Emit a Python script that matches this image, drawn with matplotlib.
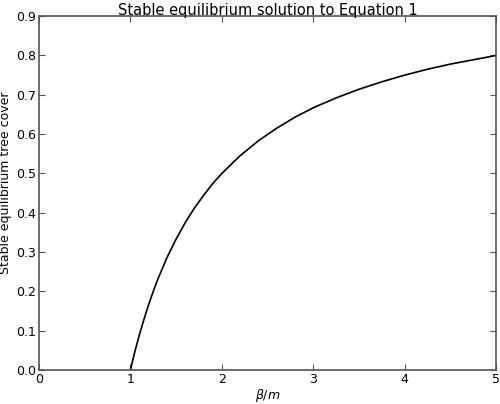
import matplotlib
matplotlib.use('Agg')
import matplotlib.pyplot as plt

# valores
beta_m = [1.0, 1.02, 1.05, 1.08, 1.1, 1.15, 1.2, 1.25, 1.3, 1.4, 1.5, 1.6, 1.7, 1.8,
          1.9, 2.0, 2.2, 2.4, 2.6, 2.8, 3.0, 3.25, 3.5, 3.75, 4.0, 4.25, 4.5, 4.75, 5.0]
tree_cover = [0.0, 0.020, 0.048, 0.074, 0.091, 0.130, 0.167, 0.200, 0.231, 0.286,
              0.333, 0.375, 0.412, 0.444, 0.474, 0.500, 0.545, 0.583, 0.615, 0.643,
              0.667, 0.692, 0.714, 0.733, 0.750, 0.765, 0.778, 0.789, 0.800]

xticks = [0, 1, 2, 3, 4, 5]
yticks = [0.0, 0.1, 0.2, 0.3, 0.4, 0.5, 0.6, 0.7, 0.8, 0.9]

fig = plt.figure(figsize=(5.0, 4.04), dpi=100)
ax = fig.add_axes([0.078, 0.084, 0.914, 0.876])

ax.plot(beta_m, tree_cover, color='black', lw=1.2)

ax.set_xlim(0, 5)
ax.set_ylim(0, 0.9)
ax.set_xticks(xticks)
ax.set_yticks(yticks)
ax.set_yticklabels(['%.1f' % v for v in yticks])
ax.tick_params(direction='in', top=True, right=True, length=4, width=0.8,
               labelsize=9, color='#555555', pad=2)
for s in ax.spines.values():
    s.set_linewidth(1.2)
    s.set_color('#555555')

ax.set_xlabel(r'$\beta/m$', fontsize=9, labelpad=1)
ax.set_ylabel('Stable equilibrium tree cover', fontsize=9)
ax.yaxis.set_label_coords(-0.058, 0.53)
ax.set_title('Stable equilibrium solution to Equation 1', fontsize=10.5, pad=1)

fig.savefig('out.png', dpi=100)
